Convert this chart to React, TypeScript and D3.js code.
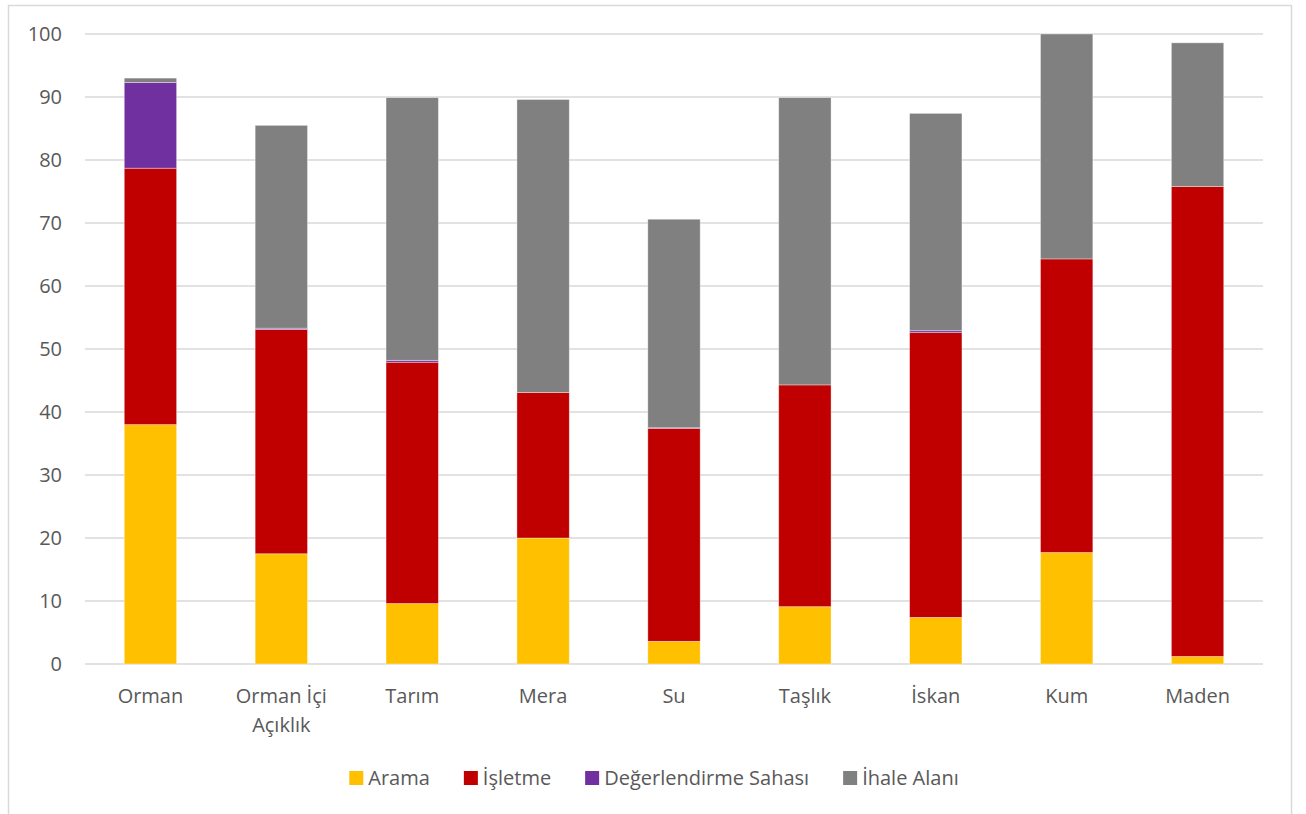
import React, { useEffect, useRef } from 'react';
import * as d3 from 'd3';

const categories = ['Orman', 'Orman İçi\nAçıklık', 'Tarım', 'Mera', 'Su', 'Taşlık', 'İskan', 'Kum', 'Maden'];
const arama = [38.0, 17.5, 9.6, 20.0, 3.6, 9.1, 7.4, 17.7, 1.2];
const isletme = [40.7, 35.6, 38.3, 23.1, 33.8, 35.2, 45.2, 46.6, 74.6];
const degerlendirme = [13.6, 0.2, 0.3, 0.0, 0.1, 0.0, 0.3, 0.0, 0.0];
const ihale = [0.7, 32.2, 41.7, 46.5, 33.1, 45.6, 34.5, 35.7, 22.8];
const seriesNames = ['Arama', 'İşletme', 'Değerlendirme Sahası', 'İhale Alanı'];
const seriesColors = ['#FFC000', '#C00000', '#7030A0', '#808080'];
const yTicks = [0, 10, 20, 30, 40, 50, 60, 70, 80, 90, 100];

const W = 1306;
const H = 814;
const FONT = '"Open Sans", "Noto Sans", sans-serif';
const TEXT = '#595959';

const App: React.FC = () => {
  const ref = useRef<SVGSVGElement>(null);

  useEffect(() => {
    if (!ref.current) return;
    const svg = d3.select(ref.current);
    svg.selectAll('*').remove();

    const margin = { left: 85, right: 1263, top: 34, bottom: 664 };

    svg.append('rect')
      .attr('x', 8.5).attr('y', 5.5)
      .attr('width', 1283).attr('height', 830)
      .attr('fill', '#fff').attr('stroke', '#d9d9d9').attr('stroke-width', 1.5);

    const x = d3.scaleBand<number>()
      .domain(d3.range(categories.length))
      .range([margin.left, margin.right])
      .paddingInner(0.6)
      .paddingOuter(0.3);
    const y = d3.scaleLinear().domain([0, 100]).range([margin.bottom, margin.top]);

    // gridlines
    svg.append('g').selectAll('line').data(yTicks).enter().append('line')
      .attr('x1', margin.left).attr('x2', margin.right)
      .attr('y1', d => y(d)).attr('y2', d => y(d))
      .attr('stroke', '#d9d9d9').attr('stroke-width', 1.5);

    // y labels
    svg.append('g').selectAll('text').data(yTicks).enter().append('text')
      .attr('x', 62).attr('y', d => y(d))
      .attr('dy', '0.36em')
      .attr('text-anchor', 'end')
      .attr('font-family', FONT).attr('font-size', 20).attr('fill', TEXT)
      .text(d => d);

    // stacked bars
    const rows = categories.map((c, i) => ({
      i,
      Arama: arama[i],
      'İşletme': isletme[i],
      'Değerlendirme Sahası': degerlendirme[i],
      'İhale Alanı': ihale[i],
    }));
    const stack = d3.stack<any>().keys(seriesNames)(rows);

    svg.append('g').selectAll('g').data(stack).enter().append('g')
      .attr('fill', (_, k) => seriesColors[k])
      .selectAll('rect').data(d => d.filter(p => p[1] - p[0] > 0)).enter().append('rect')
      .attr('x', d => x(d.data.i)!)
      .attr('width', x.bandwidth())
      .attr('y', d => y(d[1]))
      .attr('height', d => y(d[0]) - y(d[1]))
      .attr('stroke', '#fff').attr('stroke-opacity', 0.45).attr('stroke-width', 0.8);

    // x labels
    const xl = svg.append('g').selectAll('text').data(categories).enter().append('text')
      .attr('x', (_, i) => x(i)! + x.bandwidth() / 2)
      .attr('y', 703)
      .attr('text-anchor', 'middle')
      .attr('font-family', FONT).attr('font-size', 20).attr('fill', TEXT);
    xl.each(function (d) {
      const t = d3.select(this);
      d.split('\n').forEach((line, j) => {
        t.append('tspan')
          .attr('x', t.attr('x'))
          .attr('dy', j === 0 ? 0 : 29)
          .text(line);
      });
    });

    // legend
    const lg = svg.append('g');
    const items = seriesNames.map((name, k) => {
      const g = lg.append('g');
      g.append('rect').attr('width', 14).attr('height', 14).attr('y', -7).attr('fill', seriesColors[k]);
      const t = g.append('text').attr('x', 19).attr('dy', '0.36em')
        .attr('font-family', FONT).attr('font-size', 20).attr('fill', TEXT).text(name);
      const w = 19 + (t.node() as SVGTextElement).getComputedTextLength();
      return { g, w };
    });
    const gap = 34;
    const total = d3.sum(items, d => d.w) + gap * (items.length - 1);
    let cx = 654 - total / 2;
    items.forEach(it => {
      it.g.attr('transform', `translate(${cx},778)`);
      cx += it.w + gap;
    });
  }, []);

  return (
    <svg ref={ref} width={W} height={H} style={{ position: 'absolute', left: 0, top: 0, background: '#fff' }} />
  );
};

export default App;
